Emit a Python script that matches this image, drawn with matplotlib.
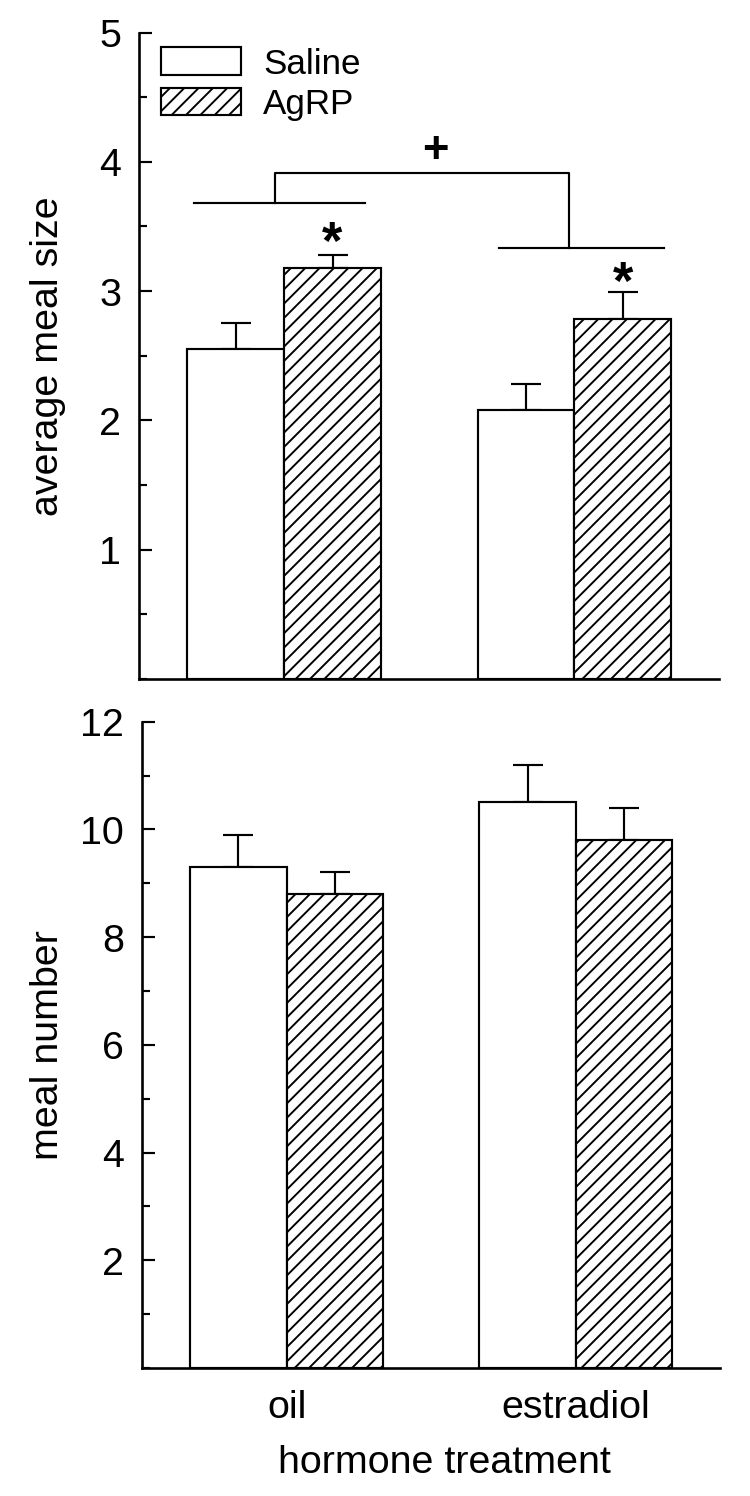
import matplotlib
matplotlib.use('Agg')
import matplotlib.pyplot as plt
import numpy as np
from matplotlib.ticker import MultipleLocator

plt.rcParams['font.family'] = ['Liberation Sans', 'DejaVu Sans']
plt.rcParams['hatch.linewidth'] = 1.6

# data
groups = ['oil', 'estradiol']
series = ['Saline', 'AgRP']

meal_size_saline = [2.55, 2.08]
meal_size_saline_err = [0.20, 0.20]
meal_size_agrp = [3.18, 2.78]
meal_size_agrp_err = [0.10, 0.21]

meal_num_saline = [9.3, 10.5]
meal_num_saline_err = [0.6, 0.7]
meal_num_agrp = [8.8, 9.8]
meal_num_agrp_err = [0.4, 0.6]

DPI = 86
fig = plt.figure(figsize=(750.5 / DPI, 1496.5 / DPI), dpi=DPI)
ax1 = fig.add_axes([0.1853, 0.5461, 0.7733, 0.4318])
ax2 = fig.add_axes([0.1893, 0.0856, 0.7707, 0.4318])

x = np.arange(len(groups))
w = 1 / 3
lw = 1.8
tick_fs = 33


def draw_bars(ax, sal, sal_err, ag, ag_err):
    b1 = ax.bar(x - w / 2, sal, w, color='white', edgecolor='black', linewidth=lw,
                label=series[0], zorder=2)
    b2 = ax.bar(x + w / 2, ag, w, color='white', edgecolor='black', linewidth=lw,
                hatch='//', label=series[1], zorder=2)
    ax.errorbar(x - w / 2, sal, yerr=[np.zeros(len(sal)), sal_err], fmt='none',
                ecolor='black', elinewidth=lw, capsize=12.5, capthick=lw, zorder=1)
    ax.errorbar(x + w / 2, ag, yerr=[np.zeros(len(ag)), ag_err], fmt='none',
                ecolor='black', elinewidth=lw, capsize=12.5, capthick=lw, zorder=1)
    ax.set_xlim(-0.5, 1.5)
    for s in ['top', 'right']:
        ax.spines[s].set_visible(False)
    for s in ['left', 'bottom']:
        ax.spines[s].set_linewidth(2.2)
    ax.tick_params(axis='y', which='major', direction='in', length=11, width=lw,
                   labelsize=tick_fs, pad=15)
    ax.tick_params(axis='y', which='minor', direction='in', length=7, width=lw)
    return b1, b2


# top panel: average meal size
draw_bars(ax1, meal_size_saline, meal_size_saline_err, meal_size_agrp, meal_size_agrp_err)
ax1.set_ylim(0, 5)
ax1.set_yticks([1, 2, 3, 4, 5])
ax1.yaxis.set_minor_locator(MultipleLocator(0.5))
ax1.set_xticks([])
ax1.set_ylabel('average meal size', fontsize=33)
ax1.yaxis.set_label_coords(-0.126, 0.5)

# significance brackets
ax1.plot([-0.31, 0.28], [3.68, 3.68], color='black', lw=lw)
ax1.plot([0.74, 1.31], [3.33, 3.33], color='black', lw=lw)
ax1.plot([-0.03, -0.03, 0.98, 0.98], [3.68, 3.91, 3.91, 3.33], color='black', lw=lw)
ax1.text(0.52, 4.08, '+', fontsize=38, fontweight='bold', ha='center', va='center')
for xi, yi in zip(x + w / 2, [3.47, 3.16]):
    ax1.text(xi, yi - 0.11, '*', fontsize=44, fontweight='bold', ha='center', va='center')

ax1.legend(loc='upper left', bbox_to_anchor=(0.038, 0.977), frameon=False,
           fontsize=29.3, handlelength=2.29, handleheight=0.85, handletextpad=0.63,
           labelspacing=0.2, borderpad=0, borderaxespad=0)

# bottom panel: meal number
draw_bars(ax2, meal_num_saline, meal_num_saline_err, meal_num_agrp, meal_num_agrp_err)
ax2.set_ylim(0, 12)
ax2.set_yticks([2, 4, 6, 8, 10, 12])
ax2.yaxis.set_minor_locator(MultipleLocator(1))
ax2.set_xticks(x)
ax2.set_xticklabels(groups)
ax2.tick_params(axis='x', length=0, labelsize=tick_fs, pad=18)
ax2.set_xlabel('hormone treatment', fontsize=33)
ax2.xaxis.set_label_coords(0.522, -0.119)
ax2.xaxis.label.set_va('top')
ax2.set_ylabel('meal number', fontsize=33)
ax2.yaxis.set_label_coords(-0.131, 0.5)

fig.savefig('out.png', dpi=DPI)
